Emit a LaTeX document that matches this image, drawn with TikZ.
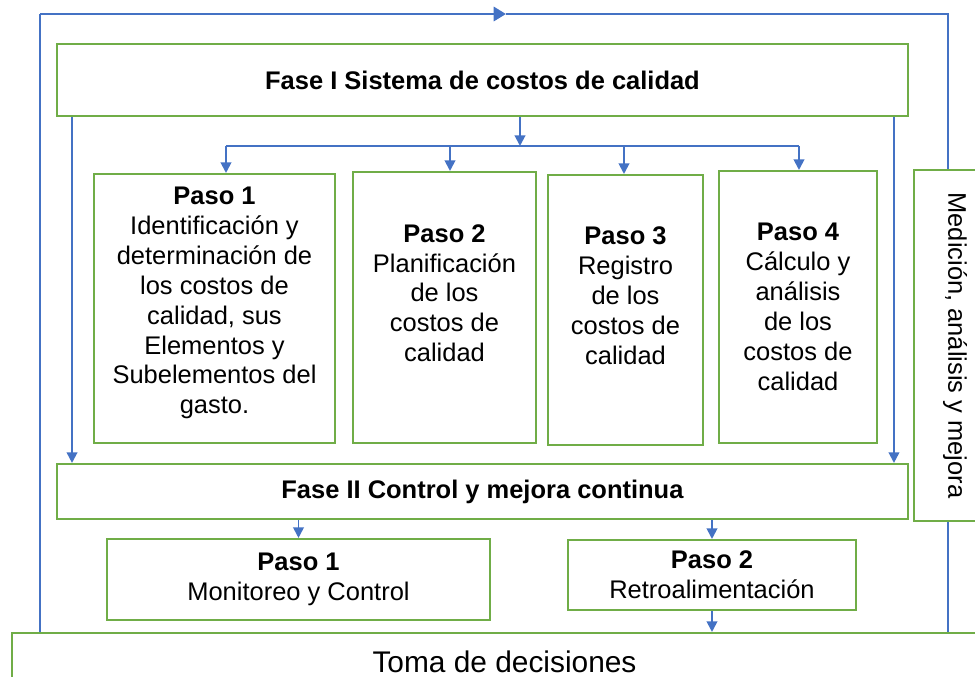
\documentclass[tikz,border=0pt]{standalone}
\usepackage{fontspec}
\setmainfont{Liberation Sans}
\usetikzlibrary{arrows.meta}
\definecolor{verde}{HTML}{70AD47}
\definecolor{azul}{HTML}{4472C4}

\begin{document}
\begin{tikzpicture}[x=0.02cm,y=-0.02cm,
	caja/.style={draw=verde,line width=1.2pt,align=center,font=\fontsize{14.5}{17}\selectfont},
	flecha/.style={azul,line width=1.1pt,-{Triangle[width=6pt,length=6pt]}},
	linea/.style={azul,line width=0.6pt}]
	\useasboundingbox (0,0) rectangle (975,677);
	\node[caja,minimum width=17.02cm,minimum height=1.44cm] (f1) at (482.5,80) {\textbf{Fase I Sistema de costos de calidad}};
	\node[caja,minimum width=4.82cm,minimum height=5.38cm] (p1) at (214.5,308.5) {\textbf{Paso 1}\\Identificación y\\determinación de\\los costos de\\calidad, sus\\Elementos y\\Subelementos del\\gasto.\rule[-0.32cm]{0pt}{0.32cm}};
	\node[caja,minimum width=3.66cm,minimum height=5.42cm] (p2) at (444.5,307.5) {\textbf{Paso 2}\\Planificación\\de los\\costos de\\calidad\rule[-0.58cm]{0pt}{0.58cm}};
	\node[caja,minimum width=3.1cm,minimum height=5.4cm] (p3) at (625.5,310) {\textbf{Paso 3}\\Registro\\de los\\costos de\\calidad\rule[-0.58cm]{0pt}{0.58cm}};
	\node[caja,minimum width=3.16cm,minimum height=5.44cm] (p4) at (798,307) {\textbf{Paso 4}\\Cálculo y\\análisis\\de los\\costos de\\calidad};
	\node[caja,minimum width=1.64cm,minimum height=7.02cm] (side) at (955,345.5) {};
	\node[rotate=-90,font=\fontsize{14.5}{17}\selectfont] (sidetxt) at (side.center) {Medición, análisis y mejora};
	\node[caja,minimum width=17.02cm,minimum height=1.1cm] (f2) at (482.5,491.5) {\textbf{Fase II Control y mejora continua}};
	\node[caja,minimum width=7.66cm,minimum height=1.62cm] (pa) at (298.5,579.5) {\textbf{Paso 1}\\Monitoreo y Control};
	\node[caja,minimum width=5.76cm,minimum height=1.4cm] (pb) at (712,575) {\textbf{Paso 2}\\Retroalimentación};
	\node[caja,minimum width=19.7cm,minimum height=1.16cm,font=\fontsize{17}{20}\selectfont] (toma) at (504.5,662) {Toma de decisiones};

	\coordinate (tl) at (40,14);
	\coordinate (tm) at (506,14);
	\coordinate (tr) at (948,14);
	\draw[azul,line width=1.7pt,-{Triangle[width=8pt,length=7pt]}] (tl) -- (tm);
	\draw[linea] (tm) -- (tr) -- (side.north -| tr);
	\draw[linea] (tl) -- (toma.north -| tl);
	\draw[linea] (side.south -| tr) -- (toma.north -| tr);

	\draw[flecha] ([xshift=0.32cm]f1.south west) -- ([xshift=0.32cm]f2.north west);
	\draw[flecha] ([xshift=-0.3cm]f1.south east) -- ([xshift=-0.3cm]f2.north east);
	\coordinate (bus) at (520,146);
	\draw[flecha] (f1.south -| bus) -- (bus);
	\foreach \n/\dx in {p1/0.23,p2/0.11,p3/-0.03,p4/0.02}{
		\coordinate (t\n) at ([xshift=\dx cm]\n.north);
		\draw[flecha] (t\n |- bus) -- (t\n);
	}
	\draw[linea,line width=0.8pt] (tp1 |- bus) -- (tp4 |- bus);

	\draw[flecha] (f2.south -| pa.north) -- (pa.north);
	\draw[flecha] (f2.south -| pb.north) -- (pb.north);
	\draw[flecha] (pb.south) -- (toma.north -| pb.south);
\end{tikzpicture}
\end{document}
